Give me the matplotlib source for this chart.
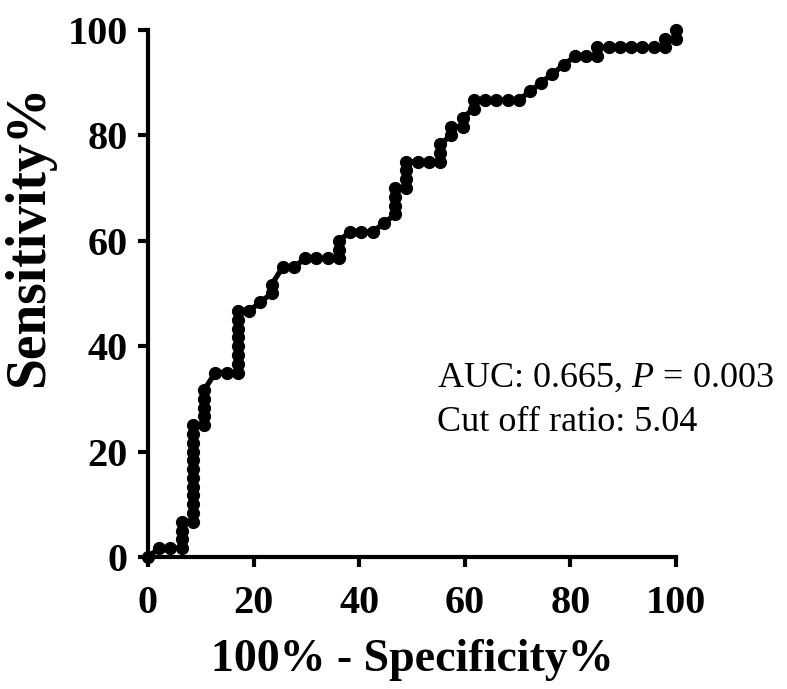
import matplotlib
matplotlib.use("Agg")
import matplotlib.pyplot as plt
import numpy as np

# ROC curve points (100% - Specificity%, Sensitivity%)
fpr = [0, 2.13, 4.26, 6.38, 6.38, 6.38, 6.38,
       8.51, 8.51, 8.51, 8.51, 8.51, 8.51, 8.51, 8.51, 8.51, 8.51, 8.51, 8.51,
       10.64, 10.64, 10.64, 10.64, 10.64,
       12.77, 14.89,
       17.02, 17.02, 17.02, 17.02, 17.02, 17.02, 17.02, 17.02,
       19.15, 21.28, 23.40, 23.40, 25.53, 27.66, 29.79, 31.91, 34.04,
       36.17, 36.17, 36.17, 38.30, 40.43, 42.55, 44.68,
       46.81, 46.81, 46.81, 46.81,
       48.94, 48.94, 48.94, 48.94,
       51.06, 53.19, 55.32, 55.32, 55.32,
       57.45, 57.45, 59.57, 59.57, 61.70, 61.70,
       63.83, 65.96, 68.09, 70.21, 72.34, 74.47, 76.60, 78.72, 80.85, 82.98,
       85.11, 85.11, 87.23, 89.36, 91.49, 93.62, 95.74,
       97.87, 97.87, 100, 100]
tpr = [0, 1.67, 1.67, 1.67, 3.33, 5.00, 6.67,
       6.67, 8.33, 10.00, 11.67, 13.33, 15.00, 16.67, 18.33, 20.00, 21.67, 23.33, 25.00,
       25.00, 26.67, 28.33, 30.00, 31.67,
       35.00, 35.00,
       35.00, 36.67, 38.33, 40.00, 41.67, 43.33, 45.00, 46.67,
       46.67, 48.33, 50.00, 51.67, 55.00, 55.00, 56.67, 56.67, 56.67,
       56.67, 58.33, 60.00, 61.67, 61.67, 61.67, 63.33,
       65.00, 66.67, 68.33, 70.00,
       70.00, 71.67, 73.33, 75.00,
       75.00, 75.00, 75.00, 76.67, 78.33,
       80.00, 81.67, 81.67, 83.33, 85.00, 86.67,
       86.67, 86.67, 86.67, 86.67, 88.33, 90.00, 91.67, 93.33, 95.00, 95.00,
       95.00, 96.67, 96.67, 96.67, 96.67, 96.67, 96.67,
       96.67, 98.33, 98.33, 100]

x_ticks = [0, 20, 40, 60, 80, 100]
y_ticks = [0, 20, 40, 60, 80, 100]
annot_auc = r'AUC: 0.665, $\mathit{P}$ = 0.003'
annot_cut = 'Cut off ratio: 5.04'

plt.rcParams['font.family'] = ['Liberation Serif', 'DejaVu Serif']
plt.rcParams['mathtext.fontset'] = 'custom'
plt.rcParams['mathtext.rm'] = 'Liberation Serif'
plt.rcParams['mathtext.it'] = 'Liberation Serif:italic'
plt.rcParams['mathtext.bf'] = 'Liberation Serif:bold'

fig = plt.figure(figsize=(7.87, 6.89), dpi=100)
ax = fig.add_axes([0.188, 0.1916, 0.671, 0.765])

ax.plot(fpr, tpr, color='black', linewidth=3.8, marker='o', markersize=8.5,
        clip_on=False, zorder=3)

ax.set_xlim(0, 100)
ax.set_ylim(0, 100)
ax.set_xticks(x_ticks)
ax.set_yticks(y_ticks)
for sp in ['top', 'right']:
    ax.spines[sp].set_visible(False)
for sp in ['left', 'bottom']:
    ax.spines[sp].set_linewidth(3.0)
ax.tick_params(axis='both', direction='out', length=7.5, width=3.0,
               labelsize=29)
ax.tick_params(axis='x', pad=13)
ax.tick_params(axis='y', pad=7)
for lab in ax.get_xticklabels() + ax.get_yticklabels():
    lab.set_fontweight('bold')

ax.set_xlabel('100% - Specificity%', fontsize=33, fontweight='bold', labelpad=12)
ax.set_ylabel('Sensitivity%', fontsize=40, fontweight='bold', labelpad=6)
ax.yaxis.set_label_coords(-0.175, 0.61)

ax.text(54.8, 34, annot_auc, fontsize=26, ha='left', va='center')
ax.text(54.8, 25.5, annot_cut, fontsize=26, ha='left', va='center')

fig.savefig('out.png', dpi=100)
